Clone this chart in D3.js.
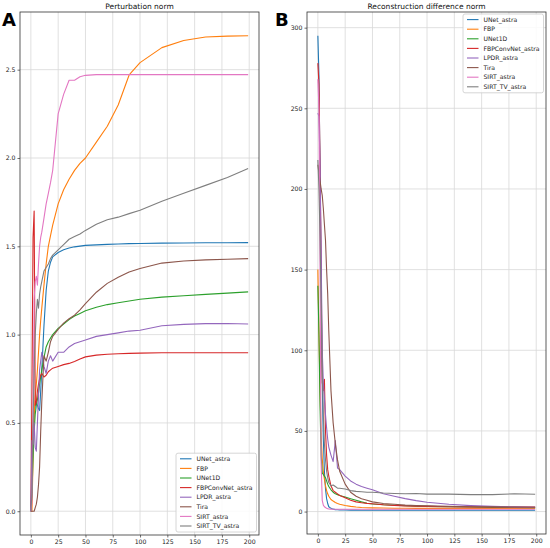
<!DOCTYPE html>
<html>
<head>
<meta charset="utf-8">
<script src="https://cdn.jsdelivr.net/npm/d3@7"></script>
<style>
  body { margin: 0; background: #fff; }
  svg { font-family: 'DejaVu Sans', sans-serif; }
</style>
</head>
<body>
<div id="chart"></div>
<script>
var iters = [0, 1, 2, 3, 4, 5, 6, 7, 8, 9, 10, 12, 14, 16, 18, 20, 25, 30, 35, 40, 45, 50,
    60, 70, 80, 90, 100, 120, 140, 160, 180, 199];

var seriesNames = ['UNet_astra', 'FBP', 'UNet1D', 'FBPConvNet_astra', 'LPDR_astra', 'Tira', 'SIRT_astra', 'SIRT_TV_astra'];
var seriesColors = ['#1f77b4', '#ff7f0e', '#2ca02c', '#d62728', '#9467bd', '#8c564b', '#e377c2', '#7f7f7f'];

// panel A: perturbation norm
var pertUNetAstra = [0, 0.2, 0.45, 0.55, 0.6, 0.62, 0.6, 0.58, 0.57, 0.68, 0.8, 1.05, 1.25, 1.36, 1.41, 1.44,
    1.465, 1.48, 1.49, 1.497, 1.501, 1.505, 1.508, 1.511, 1.513, 1.515, 1.516, 1.518, 1.519, 1.52, 1.52, 1.521];
var pertFBP = [0, 0, 0.3, 0.55, 0.65, 0.72, 0.8, 0.9, 1.0, 1.08, 1.15, 1.28, 1.4, 1.5, 1.56, 1.62,
    1.74, 1.82, 1.88, 1.93, 1.97, 2.0, 2.09, 2.18, 2.3, 2.47, 2.54, 2.625, 2.665, 2.685, 2.69, 2.692];
var pertUNet1D = [0, 0.1, 0.3, 0.45, 0.55, 0.6, 0.63, 0.67, 0.72, 0.76, 0.8, 0.87, 0.93, 0.96, 0.98, 1.0,
    1.035, 1.06, 1.085, 1.105, 1.12, 1.135, 1.155, 1.17, 1.18, 1.19, 1.2, 1.212, 1.22, 1.228, 1.235, 1.242];
var pertFBPConvNet = [0, 0.7, 1.55, 1.7, 0.6, 0.62, 0.68, 0.72, 0.75, 0.77, 0.78, 0.76, 0.77, 0.79, 0.8, 0.81,
    0.82, 0.83, 0.837, 0.848, 0.862, 0.874, 0.884, 0.889, 0.892, 0.894, 0.895, 0.897, 0.897, 0.897, 0.897, 0.897];
var pertLPDR = [0, 0.4, 0.38, 0.5, 0.36, 0.34, 0.5, 0.65, 0.8, 0.85, 0.9, 0.82, 0.78, 0.85, 0.88, 0.85,
    0.9, 0.9, 0.93, 0.95, 0.96, 0.97, 0.99, 1.0, 1.01, 1.02, 1.025, 1.05, 1.058, 1.062, 1.063, 1.06];
var pertTira = [0, 0, 0, 0, 0.02, 0.04, 0.08, 0.15, 0.25, 0.45, 0.62, 0.88, 0.85, 0.9, 0.96, 0.99,
    1.03, 1.065, 1.09, 1.11, 1.14, 1.175, 1.24, 1.29, 1.325, 1.355, 1.374, 1.405, 1.417, 1.423, 1.427, 1.43];
var pertSIRT = [0, 0.05, 0.6, 1.2, 1.3, 1.33, 1.28, 1.4, 1.5, 1.55, 1.58, 1.66, 1.74, 1.8, 1.86, 1.93,
    2.25, 2.36, 2.44, 2.44, 2.46, 2.468, 2.472, 2.472, 2.472, 2.472, 2.472, 2.472, 2.472, 2.472, 2.472, 2.472];
var pertSIRTTV = [0, 0.1, 0.5, 0.8, 1.0, 1.12, 1.2, 1.15, 1.23, 1.27, 1.3, 1.36, 1.38, 1.4, 1.43, 1.45,
    1.48, 1.51, 1.54, 1.555, 1.57, 1.59, 1.625, 1.65, 1.665, 1.685, 1.704, 1.755, 1.8, 1.845, 1.89, 1.94];

// panel B: reconstruction difference norm
var recUNetAstra = [295, 270, 210, 140, 80, 45, 25, 14, 8, 5, 3, 2, 1.5, 1.2, 1.1, 1.0,
    0.95, 0.9, 0.9, 0.85, 0.85, 0.85, 0.8, 0.8, 0.8, 0.8, 0.8, 0.8, 0.8, 0.8, 0.8, 0.8];
var recFBP = [150, 110, 75, 47, 33, 25, 20, 16, 13, 11, 9.5, 7.5, 6.5, 5.6, 5, 4.5,
    3.8, 3.2, 2.8, 2.5, 2.4, 2.3, 2.2, 2.1, 2.1, 2.0, 2.0, 2.0, 2.0, 2.0, 2.0, 2.0];
var recUNet1D = [140, 110, 65, 35, 24, 23, 22, 21, 19, 17, 15.5, 13.5, 12, 11, 10.5, 10,
    9, 8, 7, 6, 5.2, 4.7, 4.2, 3.9, 3.6, 3.4, 3.2, 3.0, 2.8, 2.6, 2.5, 2.4];
var recFBPConvNet = [278, 265, 215, 150, 80, 75, 82, 50, 35, 26, 22, 16, 13, 12, 11, 10,
    8.5, 7, 6, 5.5, 5.1, 4.8, 4.2, 3.8, 3.5, 3.3, 3.2, 3.0, 2.9, 2.8, 2.8, 2.8];
var recLPDR = [247, 245, 215, 160, 100, 80, 70, 60, 52, 45, 40, 35, 31, 44, 27, 26,
    22, 19, 17, 15.5, 14.5, 13.5, 11, 9.5, 8, 6.8, 5.8, 4.5, 3.7, 3.2, 2.9, 2.7];
var recTira = [215, 210, 205, 200, 196, 188, 178, 168, 150, 135, 112, 75, 55, 42, 32, 25,
    17, 12, 9.5, 8, 7, 6, 5, 4.5, 4, 3.7, 3.5, 3.2, 3.0, 2.9, 2.8, 2.7];
var recSIRT = [268, 250, 150, 30, 7, 4, 3, 2.5, 2, 1.8, 1.6, 1.5, 1.4, 1.4, 1.4, 1.4,
    1.4, 1.4, 1.4, 1.4, 1.4, 1.4, 1.4, 1.4, 1.4, 1.4, 1.4, 1.4, 1.4, 1.4, 1.4, 1.4];
var recSIRTTV = [218, 200, 170, 130, 90, 60, 42, 32, 25, 21, 18, 16, 16.5, 15.5, 14.5, 14.5,
    14, 13, 12.5, 12.3, 12, 12, 11.5, 11.2, 11, 11.2, 10.8, 10.8, 10.5, 10.5, 11, 10.7];

var xTicks = [0, 25, 50, 75, 100, 125, 150, 175, 200];
var pertTicks = [0, 0.5, 1.0, 1.5, 2.0, 2.5];
var recTicks = [0, 50, 100, 150, 200, 250, 300];

var svgWidth = 550,
    svgHeight = 548;

var svg = d3.select('#chart').append('svg')
    .attr('width', svgWidth)
    .attr('height', svgHeight);

createPanel(svg, {
    letter: 'A',
    letterX: 2,
    title: 'Perturbation norm',
    box: { left: 20, right: 259, top: 12, bottom: 535 },
    series: [pertUNetAstra, pertFBP, pertUNet1D, pertFBPConvNet, pertLPDR, pertTira, pertSIRT, pertSIRTTV],
    yTicks: pertTicks,
    yFormat: d3.format('.1f'),
    legend: 'lower right'
});

createPanel(svg, {
    letter: 'B',
    letterX: 275,
    title: 'Reconstruction difference norm',
    box: { left: 307, right: 546, top: 12, bottom: 534 },
    series: [recUNetAstra, recFBP, recUNet1D, recFBPConvNet, recLPDR, recTira, recSIRT, recSIRTTV],
    yTicks: recTicks,
    yFormat: d3.format('d'),
    legend: 'upper right'
});

function padded(lo, hi) {
    var pad = (hi - lo) * 0.05;
    return [lo - pad, hi + pad];
}

function createPanel(svg, config) {
    var box = config.box,
        width = box.right - box.left,
        height = box.bottom - box.top;

    var allValues = d3.merge(config.series);
    var x = d3.scaleLinear().range([0, width])
        .domain(padded(d3.min(iters), d3.max(iters))),
        y = d3.scaleLinear().range([height, 0])
        .domain(padded(d3.min(allValues), d3.max(allValues)));

    var g = svg.append('g')
        .attr('transform', 'translate(' + box.left + ',' + box.top + ')');

    var clipId = 'clip-' + config.letter;
    g.append('clipPath')
        .attr('id', clipId)
        .append('rect')
        .attr('width', width)
        .attr('height', height);

    // grid
    g.append('g')
        .attr('class', 'grid')
        .selectAll('line.gx')
        .data(xTicks)
        .enter().append('line')
        .attr('x1', function (d) { return x(d); })
        .attr('x2', function (d) { return x(d); })
        .attr('y1', 0)
        .attr('y2', height)
        .attr('stroke', '#d8d8d8')
        .attr('stroke-width', 0.8);

    g.append('g')
        .attr('class', 'grid')
        .selectAll('line.gy')
        .data(config.yTicks)
        .enter().append('line')
        .attr('y1', function (d) { return y(d); })
        .attr('y2', function (d) { return y(d); })
        .attr('x1', 0)
        .attr('x2', width)
        .attr('stroke', '#d8d8d8')
        .attr('stroke-width', 0.8);

    // lines
    var line = d3.line()
        .x(function (d, i) { return x(iters[i]); })
        .y(function (d) { return y(d); });

    g.append('g')
        .attr('clip-path', 'url(#' + clipId + ')')
        .selectAll('path')
        .data(config.series)
        .enter().append('path')
        .attr('d', line)
        .attr('fill', 'none')
        .attr('stroke', function (d, i) { return seriesColors[i]; })
        .attr('stroke-width', 1.1)
        .attr('stroke-linejoin', 'round');

    // axes
    var xAxis = d3.axisBottom(x).tickValues(xTicks).tickSize(2.5).tickPadding(2),
        yAxis = d3.axisLeft(y).tickValues(config.yTicks).tickFormat(config.yFormat).tickSize(2.5).tickPadding(2);

    var gx = g.append('g')
        .attr('class', 'x axis')
        .attr('transform', 'translate(0,' + height + ')')
        .call(xAxis);
    var gy = g.append('g')
        .attr('class', 'y axis')
        .call(yAxis);

    [gx, gy].forEach(function (a) {
        a.select('.domain').remove();
        a.selectAll('.tick line').attr('stroke', '#333').attr('stroke-width', 0.7);
        a.selectAll('.tick text')
            .attr('fill', '#222')
            .style('font-size', '6.2px')
            .style('font-family', "'DejaVu Sans', sans-serif");
    });

    // frame
    g.append('rect')
        .attr('width', width)
        .attr('height', height)
        .attr('fill', 'none')
        .attr('stroke', '#333')
        .attr('stroke-width', 0.8);

    // title
    g.append('text')
        .attr('x', width / 2)
        .attr('y', -3.5)
        .attr('text-anchor', 'middle')
        .style('font-size', '7.5px')
        .attr('fill', '#111')
        .text(config.title);

    // panel letter
    svg.append('text')
        .attr('x', config.letterX)
        .attr('y', 26)
        .style('font-size', '18px')
        .style('font-weight', 'bold')
        .attr('fill', '#000')
        .text(config.letter);

    createLegend(g, width, height, config.legend);
}

function createLegend(g, width, height, where) {
    var rowH = 9.6,
        boxW = 80.5,
        boxH = seriesNames.length * rowH + 2,
        bx = width - boxW - 2.5,
        by = where === 'upper right' ? 2 : height - boxH - 3;

    var lg = g.append('g')
        .attr('class', 'legend')
        .attr('transform', 'translate(' + bx + ',' + by + ')');

    lg.append('rect')
        .attr('width', boxW)
        .attr('height', boxH)
        .attr('rx', 2)
        .attr('fill', 'white')
        .attr('fill-opacity', 0.85)
        .attr('stroke', '#cccccc')
        .attr('stroke-width', 0.8);

    var rows = lg.selectAll('g.row')
        .data(seriesNames)
        .enter().append('g')
        .attr('class', 'row')
        .attr('transform', function (d, i) {
            return 'translate(0,' + (5.6 + i * rowH) + ')';
        });

    rows.append('line')
        .attr('x1', 4)
        .attr('x2', 15.5)
        .attr('stroke', function (d, i) { return seriesColors[i]; })
        .attr('stroke-width', 1.1);

    rows.append('text')
        .attr('x', 20.5)
        .attr('dy', '0.35em')
        .style('font-size', '6.1px')
        .attr('fill', '#222')
        .text(function (d) { return d; });
}
</script>
</body>
</html>
